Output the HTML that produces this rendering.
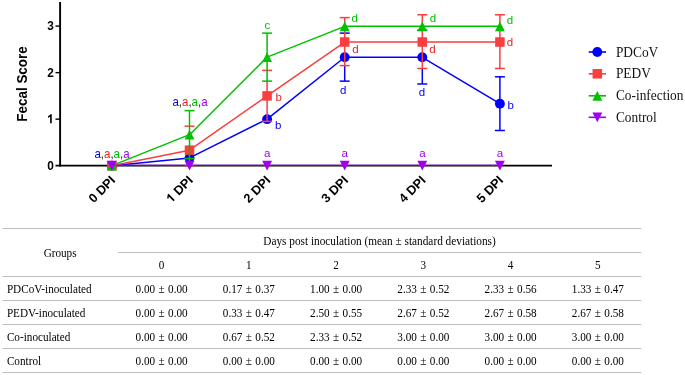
<!DOCTYPE html>
<html><head><meta charset="utf-8"><style>
html,body{margin:0;padding:0;background:#fff;}
body{width:685px;height:375px;overflow:hidden;}
svg{display:block;will-change:transform;}
.tk{font-family:"Liberation Sans",sans-serif;font-weight:bold;font-size:13px;fill:#000;}
.yl{font-family:"Liberation Sans",sans-serif;font-weight:bold;font-size:14.4px;fill:#000;}
.sl{font-family:"Liberation Sans",sans-serif;font-size:11.5px;}
.lg{font-family:"Liberation Serif",serif;font-size:13.8px;fill:#111;}
.tb{font-family:"Liberation Serif",serif;font-size:11.2px;fill:#000;}
.tv{word-spacing:0.6px;}
.xl{font-size:12.7px;}
.th{font-size:11.3px;}
</style></head><body>
<svg width="685" height="375" viewBox="0 0 685 375">
<line x1="60.1" y1="2" x2="60.1" y2="166.57" stroke="#000" stroke-width="1.9"/>
<line x1="55.5" y1="165.67" x2="552" y2="165.67" stroke="#000" stroke-width="1.8"/>
<line x1="55.5" y1="119.15" x2="60" y2="119.15" stroke="#000" stroke-width="1.4"/>
<line x1="55.5" y1="72.63" x2="60" y2="72.63" stroke="#000" stroke-width="1.4"/>
<line x1="55.5" y1="26.11" x2="60" y2="26.11" stroke="#000" stroke-width="1.4"/>
<text transform="translate(53.8,169.87) scale(0.9,1)" text-anchor="end" class="tk" style="font-size:13.2px">0</text>
<path transform="translate(47.19,123.35) scale(0.00580,-0.00645)" d="M792 0L511 0L511 1059Q357 915 148 846L148 1101Q258 1137 387 1238Q516 1339 564 1409L792 1409Z" fill="#000"/>
<text transform="translate(53.8,76.83) scale(0.9,1)" text-anchor="end" class="tk" style="font-size:13.2px">2</text>
<text transform="translate(53.8,30.31) scale(0.9,1)" text-anchor="end" class="tk" style="font-size:13.2px">3</text>
<text transform="translate(27.3,84.0) rotate(-90) scale(0.933,1)" text-anchor="middle" class="yl">Fecal Score</text>
<text transform="translate(116.10,181.00) rotate(-45)" text-anchor="end" class="tk xl">0 DPI</text>
<g transform="translate(193.70,181.00) rotate(-45)"><text text-anchor="end" class="tk xl">DPI</text><path transform="translate(-31.76,0) scale(0.00620,-0.00620)" d="M792 0L511 0L511 1059Q357 915 148 846L148 1101Q258 1137 387 1238Q516 1339 564 1409L792 1409Z" fill="#000"/></g>
<text transform="translate(271.30,181.00) rotate(-45)" text-anchor="end" class="tk xl">2 DPI</text>
<text transform="translate(348.90,181.00) rotate(-45)" text-anchor="end" class="tk xl">3 DPI</text>
<text transform="translate(426.50,181.00) rotate(-45)" text-anchor="end" class="tk xl">4 DPI</text>
<text transform="translate(504.10,181.00) rotate(-45)" text-anchor="end" class="tk xl">5 DPI</text>
<polyline points="111.90,165.67 189.50,157.92 267.10,119.15 344.70,57.27 422.30,57.27 499.90,103.64" fill="none" stroke="#0000ff" stroke-width="1.5" stroke-linejoin="round"/>
<line x1="344.70" y1="65.22" x2="344.70" y2="81.13" stroke="#0000ff" stroke-width="1.5"/>
<line x1="339.70" y1="33.12" x2="349.70" y2="33.12" stroke="#0000ff" stroke-width="1.5"/>
<line x1="339.70" y1="81.13" x2="349.70" y2="81.13" stroke="#0000ff" stroke-width="1.5"/>
<line x1="422.30" y1="68.06" x2="422.30" y2="83.97" stroke="#0000ff" stroke-width="1.5"/>
<line x1="417.30" y1="30.28" x2="427.30" y2="30.28" stroke="#0000ff" stroke-width="1.5"/>
<line x1="417.30" y1="83.97" x2="427.30" y2="83.97" stroke="#0000ff" stroke-width="1.5"/>
<line x1="499.90" y1="76.80" x2="499.90" y2="130.49" stroke="#0000ff" stroke-width="1.5"/>
<line x1="494.90" y1="76.80" x2="504.90" y2="76.80" stroke="#0000ff" stroke-width="1.5"/>
<line x1="494.90" y1="130.49" x2="504.90" y2="130.49" stroke="#0000ff" stroke-width="1.5"/>
<circle cx="111.90" cy="165.67" r="4.95" fill="#0000ff"/>
<circle cx="189.50" cy="157.92" r="4.95" fill="#0000ff"/>
<circle cx="267.10" cy="119.15" r="4.95" fill="#0000ff"/>
<circle cx="344.70" cy="57.27" r="4.95" fill="#0000ff"/>
<circle cx="422.30" cy="57.27" r="4.95" fill="#0000ff"/>
<circle cx="499.90" cy="103.64" r="4.95" fill="#0000ff"/>
<polyline points="111.90,165.67 189.50,150.16 267.10,95.89 344.70,42.02 422.30,42.02 499.90,42.02" fill="none" stroke="#f83e3e" stroke-width="1.5" stroke-linejoin="round"/>
<line x1="189.50" y1="158.26" x2="189.50" y2="165.67" stroke="#f83e3e" stroke-width="1.5"/>
<line x1="184.50" y1="126.16" x2="194.50" y2="126.16" stroke="#f83e3e" stroke-width="1.5"/>
<line x1="184.50" y1="165.67" x2="194.50" y2="165.67" stroke="#f83e3e" stroke-width="1.5"/>
<line x1="267.10" y1="80.73" x2="267.10" y2="121.38" stroke="#f83e3e" stroke-width="1.5"/>
<line x1="262.10" y1="70.40" x2="272.10" y2="70.40" stroke="#f83e3e" stroke-width="1.5"/>
<line x1="262.10" y1="121.38" x2="272.10" y2="121.38" stroke="#f83e3e" stroke-width="1.5"/>
<line x1="344.70" y1="17.61" x2="344.70" y2="65.62" stroke="#f83e3e" stroke-width="1.5"/>
<line x1="339.70" y1="17.61" x2="349.70" y2="17.61" stroke="#f83e3e" stroke-width="1.5"/>
<line x1="339.70" y1="65.62" x2="349.70" y2="65.62" stroke="#f83e3e" stroke-width="1.5"/>
<line x1="422.30" y1="14.77" x2="422.30" y2="68.46" stroke="#f83e3e" stroke-width="1.5"/>
<line x1="417.30" y1="14.77" x2="427.30" y2="14.77" stroke="#f83e3e" stroke-width="1.5"/>
<line x1="417.30" y1="68.46" x2="427.30" y2="68.46" stroke="#f83e3e" stroke-width="1.5"/>
<line x1="499.90" y1="14.77" x2="499.90" y2="68.46" stroke="#f83e3e" stroke-width="1.5"/>
<line x1="494.90" y1="14.77" x2="504.90" y2="14.77" stroke="#f83e3e" stroke-width="1.5"/>
<line x1="494.90" y1="68.46" x2="504.90" y2="68.46" stroke="#f83e3e" stroke-width="1.5"/>
<rect x="107.15" y="160.92" width="9.50" height="9.50" fill="#f83e3e"/>
<rect x="184.75" y="145.41" width="9.50" height="9.50" fill="#f83e3e"/>
<rect x="262.35" y="91.14" width="9.50" height="9.50" fill="#f83e3e"/>
<rect x="339.95" y="37.27" width="9.50" height="9.50" fill="#f83e3e"/>
<rect x="417.55" y="37.27" width="9.50" height="9.50" fill="#f83e3e"/>
<rect x="495.15" y="37.27" width="9.50" height="9.50" fill="#f83e3e"/>
<polyline points="111.90,165.67 189.50,134.66 267.10,57.12 344.70,26.36 422.30,26.36 499.90,26.36" fill="none" stroke="#00c000" stroke-width="1.5" stroke-linejoin="round"/>
<line x1="189.50" y1="110.65" x2="189.50" y2="158.66" stroke="#00c000" stroke-width="1.5"/>
<line x1="184.50" y1="110.65" x2="194.50" y2="110.65" stroke="#00c000" stroke-width="1.5"/>
<line x1="184.50" y1="158.66" x2="194.50" y2="158.66" stroke="#00c000" stroke-width="1.5"/>
<line x1="267.10" y1="33.12" x2="267.10" y2="81.13" stroke="#00c000" stroke-width="1.5"/>
<line x1="262.10" y1="33.12" x2="272.10" y2="33.12" stroke="#00c000" stroke-width="1.5"/>
<line x1="262.10" y1="81.13" x2="272.10" y2="81.13" stroke="#00c000" stroke-width="1.5"/>
<polygon points="111.90,160.82 116.85,170.52 106.95,170.52" fill="#00c000"/>
<polygon points="189.50,129.81 194.45,139.51 184.55,139.51" fill="#00c000"/>
<polygon points="267.10,52.27 272.05,61.97 262.15,61.97" fill="#00c000"/>
<polygon points="344.70,21.51 349.65,31.21 339.75,31.21" fill="#00c000"/>
<polygon points="422.30,21.51 427.25,31.21 417.35,31.21" fill="#00c000"/>
<polygon points="499.90,21.51 504.85,31.21 494.95,31.21" fill="#00c000"/>
<line x1="111.90" y1="165.22" x2="499.90" y2="165.22" stroke="#a000f0" stroke-width="1.0"/>
<polygon points="106.95,160.82 116.85,160.82 111.90,170.52" fill="#a000f0"/>
<polygon points="184.55,160.82 194.45,160.82 189.50,170.52" fill="#a000f0"/>
<polygon points="262.15,160.82 272.05,160.82 267.10,170.52" fill="#a000f0"/>
<polygon points="339.75,160.82 349.65,160.82 344.70,170.52" fill="#a000f0"/>
<polygon points="417.35,160.82 427.25,160.82 422.30,170.52" fill="#a000f0"/>
<polygon points="494.95,160.82 504.85,160.82 499.90,170.52" fill="#a000f0"/>
<text transform="translate(112.00,157.80) scale(1,1.07)" class="sl" text-anchor="middle"><tspan fill="#0000ff">a</tspan><tspan fill="#222">,</tspan><tspan fill="#ee2020">a</tspan><tspan fill="#222">,</tspan><tspan fill="#00c000">a</tspan><tspan fill="#222">,</tspan><tspan fill="#a000f0">a</tspan></text>
<text transform="translate(190.00,105.90) scale(1,1.07)" class="sl" text-anchor="middle"><tspan fill="#0000ff">a</tspan><tspan fill="#222">,</tspan><tspan fill="#ee2020">a</tspan><tspan fill="#222">,</tspan><tspan fill="#00c000">a</tspan><tspan fill="#222">,</tspan><tspan fill="#a000f0">a</tspan></text>
<text transform="translate(267.40,29.20) scale(1,1.0)" fill="#00c000" class="sl" text-anchor="middle">c</text>
<text transform="translate(275.60,101.00) scale(1,1.0)" fill="#ee2020" class="sl" text-anchor="start">b</text>
<text transform="translate(274.90,128.80) scale(1,1.0)" fill="#0000ff" class="sl" text-anchor="start">b</text>
<text transform="translate(351.60,21.80) scale(1,1.0)" fill="#00c000" class="sl" text-anchor="start">d</text>
<text transform="translate(352.20,52.60) scale(1,1.0)" fill="#ee2020" class="sl" text-anchor="start">d</text>
<text transform="translate(343.20,94.20) scale(1,1.0)" fill="#0000ff" class="sl" text-anchor="middle">d</text>
<text transform="translate(429.80,21.80) scale(1,1.0)" fill="#00c000" class="sl" text-anchor="start">d</text>
<text transform="translate(429.20,53.00) scale(1,1.0)" fill="#ee2020" class="sl" text-anchor="start">d</text>
<text transform="translate(421.90,96.20) scale(1,1.0)" fill="#0000ff" class="sl" text-anchor="middle">d</text>
<text transform="translate(506.80,23.90) scale(1,1.0)" fill="#00c000" class="sl" text-anchor="start">d</text>
<text transform="translate(506.80,46.30) scale(1,1.0)" fill="#ee2020" class="sl" text-anchor="start">d</text>
<text transform="translate(507.60,108.50) scale(1,1.0)" fill="#0000ff" class="sl" text-anchor="start">b</text>
<text transform="translate(267.20,157.00) scale(1,1.0)" fill="#a000f0" class="sl" text-anchor="middle">a</text>
<text transform="translate(344.80,157.00) scale(1,1.0)" fill="#a000f0" class="sl" text-anchor="middle">a</text>
<text transform="translate(422.40,157.00) scale(1,1.0)" fill="#a000f0" class="sl" text-anchor="middle">a</text>
<text transform="translate(500.00,157.00) scale(1,1.0)" fill="#a000f0" class="sl" text-anchor="middle">a</text>
<line x1="588.7" y1="52.00" x2="606" y2="52.00" stroke="#0000ff" stroke-width="1.6"/>
<circle cx="597.30" cy="52.00" r="4.95" fill="#0000ff"/>
<text transform="translate(615.9,56.60) scale(0.97,1)" class="lg">PDCoV</text>
<line x1="588.7" y1="73.80" x2="606" y2="73.80" stroke="#f83e3e" stroke-width="1.6"/>
<rect x="592.55" y="69.05" width="9.50" height="9.50" fill="#f83e3e"/>
<text transform="translate(615.9,78.40) scale(0.97,1)" class="lg">PEDV</text>
<line x1="588.7" y1="95.80" x2="606" y2="95.80" stroke="#00c000" stroke-width="1.6"/>
<polygon points="597.30,90.95 602.25,100.65 592.35,100.65" fill="#00c000"/>
<text transform="translate(615.9,100.40) scale(0.97,1)" class="lg">Co-infection</text>
<line x1="588.7" y1="117.30" x2="606" y2="117.30" stroke="#a000f0" stroke-width="1.6"/>
<polygon points="592.35,112.45 602.25,112.45 597.30,122.15" fill="#a000f0"/>
<text transform="translate(615.9,121.90) scale(0.97,1)" class="lg">Control</text>
<line x1="2.3" y1="228.5" x2="641.5" y2="228.5" stroke="#c0c0c0" stroke-width="1"/>
<line x1="2.3" y1="276.5" x2="641.5" y2="276.5" stroke="#c0c0c0" stroke-width="1"/>
<line x1="2.3" y1="300.5" x2="641.5" y2="300.5" stroke="#c0c0c0" stroke-width="1"/>
<line x1="2.3" y1="324.5" x2="641.5" y2="324.5" stroke="#c0c0c0" stroke-width="1"/>
<line x1="2.3" y1="348.5" x2="641.5" y2="348.5" stroke="#c0c0c0" stroke-width="1"/>
<line x1="2.3" y1="372.5" x2="641.5" y2="372.5" stroke="#c0c0c0" stroke-width="1"/>
<line x1="118" y1="252.5" x2="641.5" y2="252.5" stroke="#c0c0c0" stroke-width="1"/>
<text transform="translate(60.10,256.50) scale(1,1.12)" text-anchor="middle" class="tb">Groups</text>
<text transform="translate(379.50,244.90) scale(1,1.12)" text-anchor="middle" class="tb th">Days post inoculation (mean ± standard deviations)</text>
<text transform="translate(161.62,268.70) scale(1,1.12)" text-anchor="middle" class="tb">0</text>
<text transform="translate(248.88,268.70) scale(1,1.12)" text-anchor="middle" class="tb">1</text>
<text transform="translate(336.12,268.70) scale(1,1.12)" text-anchor="middle" class="tb">2</text>
<text transform="translate(423.38,268.70) scale(1,1.12)" text-anchor="middle" class="tb">3</text>
<text transform="translate(510.62,268.70) scale(1,1.12)" text-anchor="middle" class="tb">4</text>
<text transform="translate(597.88,268.70) scale(1,1.12)" text-anchor="middle" class="tb">5</text>
<text transform="translate(6.90,292.60) scale(1,1.12)" text-anchor="start" class="tb">PDCoV-inoculated</text>
<text transform="translate(161.62,292.60) scale(1,1.12)" text-anchor="middle" class="tb tv">0.00 ± 0.00</text>
<text transform="translate(248.88,292.60) scale(1,1.12)" text-anchor="middle" class="tb tv">0.17 ± 0.37</text>
<text transform="translate(336.12,292.60) scale(1,1.12)" text-anchor="middle" class="tb tv">1.00 ± 0.00</text>
<text transform="translate(423.38,292.60) scale(1,1.12)" text-anchor="middle" class="tb tv">2.33 ± 0.52</text>
<text transform="translate(510.62,292.60) scale(1,1.12)" text-anchor="middle" class="tb tv">2.33 ± 0.56</text>
<text transform="translate(597.88,292.60) scale(1,1.12)" text-anchor="middle" class="tb tv">1.33 ± 0.47</text>
<text transform="translate(6.90,316.60) scale(1,1.12)" text-anchor="start" class="tb">PEDV-inoculated</text>
<text transform="translate(161.62,316.60) scale(1,1.12)" text-anchor="middle" class="tb tv">0.00 ± 0.00</text>
<text transform="translate(248.88,316.60) scale(1,1.12)" text-anchor="middle" class="tb tv">0.33 ± 0.47</text>
<text transform="translate(336.12,316.60) scale(1,1.12)" text-anchor="middle" class="tb tv">2.50 ± 0.55</text>
<text transform="translate(423.38,316.60) scale(1,1.12)" text-anchor="middle" class="tb tv">2.67 ± 0.52</text>
<text transform="translate(510.62,316.60) scale(1,1.12)" text-anchor="middle" class="tb tv">2.67 ± 0.58</text>
<text transform="translate(597.88,316.60) scale(1,1.12)" text-anchor="middle" class="tb tv">2.67 ± 0.58</text>
<text transform="translate(6.90,340.60) scale(1,1.12)" text-anchor="start" class="tb">Co-inoculated</text>
<text transform="translate(161.62,340.60) scale(1,1.12)" text-anchor="middle" class="tb tv">0.00 ± 0.00</text>
<text transform="translate(248.88,340.60) scale(1,1.12)" text-anchor="middle" class="tb tv">0.67 ± 0.52</text>
<text transform="translate(336.12,340.60) scale(1,1.12)" text-anchor="middle" class="tb tv">2.33 ± 0.52</text>
<text transform="translate(423.38,340.60) scale(1,1.12)" text-anchor="middle" class="tb tv">3.00 ± 0.00</text>
<text transform="translate(510.62,340.60) scale(1,1.12)" text-anchor="middle" class="tb tv">3.00 ± 0.00</text>
<text transform="translate(597.88,340.60) scale(1,1.12)" text-anchor="middle" class="tb tv">3.00 ± 0.00</text>
<text transform="translate(6.90,364.60) scale(1,1.12)" text-anchor="start" class="tb">Control</text>
<text transform="translate(161.62,364.60) scale(1,1.12)" text-anchor="middle" class="tb tv">0.00 ± 0.00</text>
<text transform="translate(248.88,364.60) scale(1,1.12)" text-anchor="middle" class="tb tv">0.00 ± 0.00</text>
<text transform="translate(336.12,364.60) scale(1,1.12)" text-anchor="middle" class="tb tv">0.00 ± 0.00</text>
<text transform="translate(423.38,364.60) scale(1,1.12)" text-anchor="middle" class="tb tv">0.00 ± 0.00</text>
<text transform="translate(510.62,364.60) scale(1,1.12)" text-anchor="middle" class="tb tv">0.00 ± 0.00</text>
<text transform="translate(597.88,364.60) scale(1,1.12)" text-anchor="middle" class="tb tv">0.00 ± 0.00</text>
</svg>
</body></html>
